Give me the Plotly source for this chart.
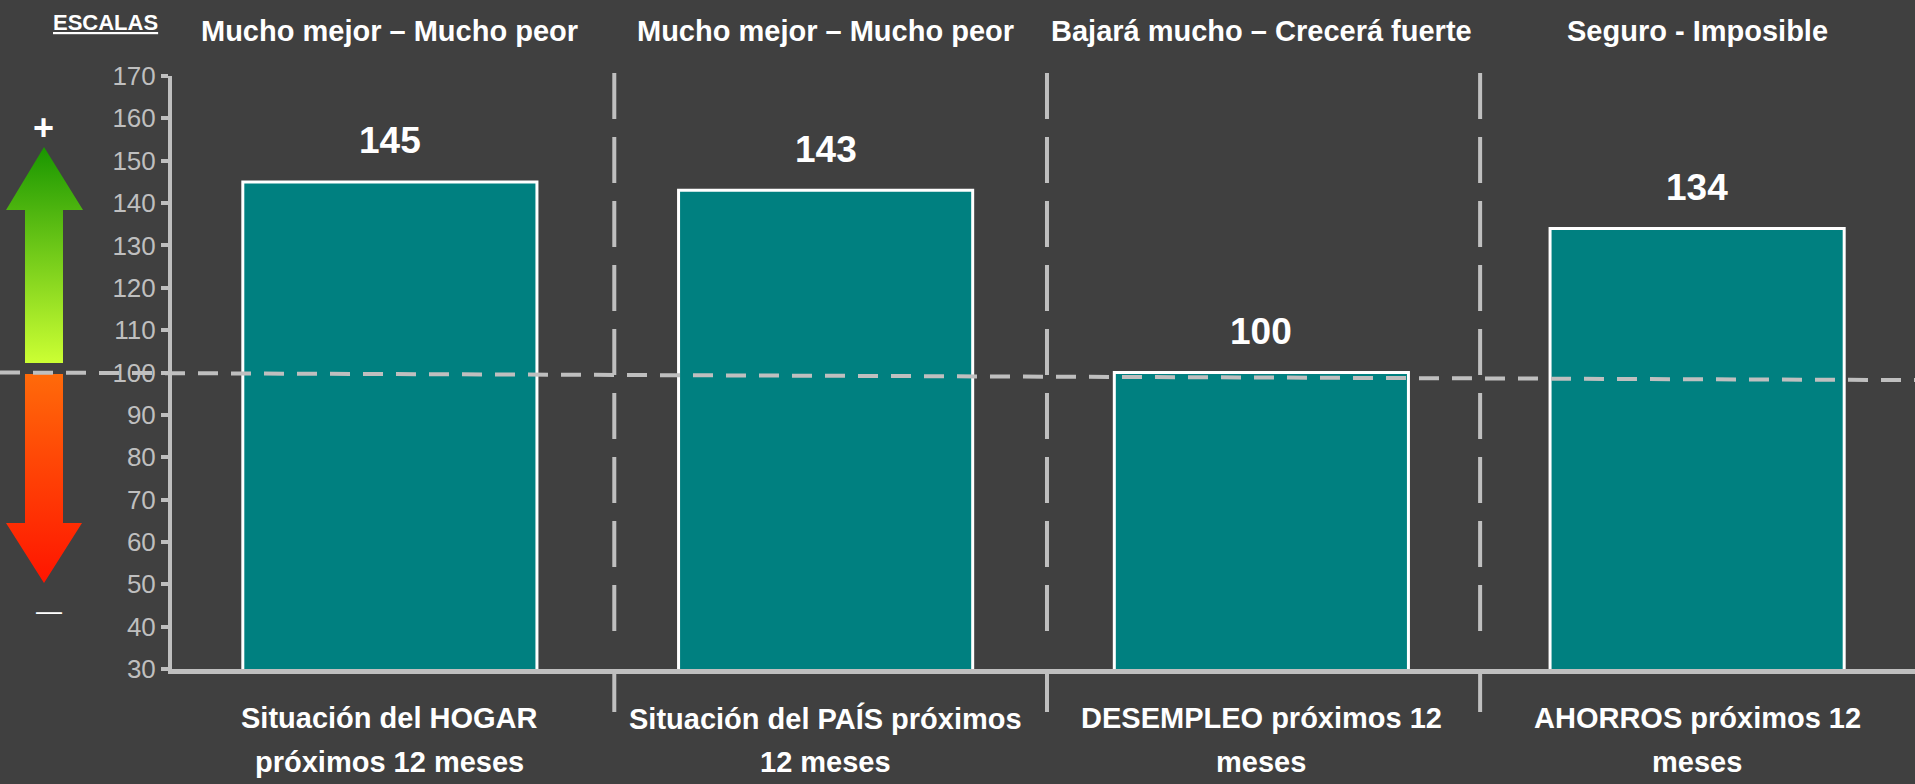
import plotly.graph_objects as go

# data
categories = ["Situación del HOGAR<br>próximos 12 meses",
              "Situación del PAÍS próximos<br>12 meses",
              "DESEMPLEO próximos 12<br>meses",
              "AHORROS próximos 12<br>meses"]
values = [145, 143, 100, 134]
scales = ["Mucho mejor – Mucho peor", "Mucho mejor – Mucho peor",
          "Bajará mucho – Crecerá fuerte", "Seguro - Imposible"]
y_ticks = [30, 40, 50, 60, 70, 80, 90, 100, 110, 120, 130, 140, 150, 160, 170]
reference_level = 100

W, H = 1915, 784
BG = "#404040"
GRAY = "#BFBFBF"
FONT = "Liberation Sans Narrow, Liberation Sans, Arial"


def py(p):
    # pixel row -> paper fraction
    return (H - p) / H


fig = go.Figure()
fig.add_trace(go.Bar(
    x=categories, y=values,
    marker=dict(color="#008080", line=dict(color="white", width=3)),
    width=0.675, showlegend=False, hoverinfo="skip"))

# scale arrows on the left (own axes, pixel units)
green = [(44, 147), (83, 210), (63, 210), (63, 363), (25, 363), (25, 210), (6, 210), (44, 147)]
red = [(25, 374), (63, 374), (63, 523), (82, 523), (44, 583), (6, 523), (25, 523), (25, 374)]
fig.add_trace(go.Scatter(
    x=[p[0] for p in green], y=[H - p[1] for p in green], mode="lines",
    line=dict(width=0), fill="toself",
    fillgradient=dict(type="vertical", colorscale=[[0, "#CCFF33"], [1, "#199600"]]),
    xaxis="x2", yaxis="y2", showlegend=False, hoverinfo="skip"))
fig.add_trace(go.Scatter(
    x=[p[0] for p in red], y=[H - p[1] for p in red], mode="lines",
    line=dict(width=0), fill="toself",
    fillgradient=dict(type="vertical", colorscale=[[0, "#FF1500"], [1, "#FF6A0A"]]),
    xaxis="x2", yaxis="y2", showlegend=False, hoverinfo="skip"))

white = lambda s: dict(size=s, color="white", family=FONT)
ann = []
for cat, v in zip(categories, values):
    ann.append(dict(x=cat, y=v, text="<b>%d</b>" % v, showarrow=False,
                    yanchor="middle", yshift=41, font=white(37)))
for cat, s in zip(categories, scales):
    ann.append(dict(x=cat, xref="x", y=py(31), yref="paper", text="<b>%s</b>" % s,
                    xanchor="center", yanchor="middle", showarrow=False, font=white(29)))
for cat in categories:
    l1, l2 = cat.split("<br>")
    ann.append(dict(x=cat, xref="x", y=py(718), yref="paper", text="<b>%s</b>" % l1,
                    xanchor="center", yanchor="middle", showarrow=False, font=white(29)))
    ann.append(dict(x=cat, xref="x", y=py(762), yref="paper", text="<b>%s</b>" % l2,
                    xanchor="center", yanchor="middle", showarrow=False, font=white(29)))
ann.append(dict(x=105 / W, xref="paper", y=py(23), yref="paper", text="<b><u>ESCALAS</u></b>",
                xanchor="center", yanchor="middle", showarrow=False, font=white(22)))
ann.append(dict(x=43 / W, xref="paper", y=py(127), yref="paper", text="<b>+</b>",
                xanchor="center", yanchor="middle", showarrow=False, font=white(36)))
ann.append(dict(x=49 / W, xref="paper", y=py(611), yref="paper", text="—",
                xanchor="center", yanchor="middle", showarrow=False, font=white(26)))

shapes = []
for b in [0.515, 1.508, 2.502]:
    shapes.append(dict(type="line", xref="x", yref="paper", x0=b, x1=b, y0=py(73), y1=py(645),
                       line=dict(color=GRAY, width=4, dash="46px,18px")))
    shapes.append(dict(type="line", xref="x", yref="paper", x0=b, x1=b, y0=py(712), y1=py(669),
                       line=dict(color=GRAY, width=4)))
shapes.append(dict(type="line", xref="paper", yref="y", x0=0, x1=1,
                   y0=reference_level, y1=reference_level - 1.8,
                   line=dict(color=GRAY, width=4, dash="20px,13px"), layer="above"))

fig.update_layout(
    width=W, height=H,
    paper_bgcolor=BG, plot_bgcolor=BG,
    margin=dict(l=0, r=0, t=0, b=0, autoexpand=False),
    xaxis=dict(domain=[172 / W, 1], showticklabels=False, showline=True, linecolor=GRAY,
               linewidth=5, ticks="", showgrid=False, zeroline=False, fixedrange=True),
    yaxis=dict(domain=[py(669), py(76)], range=[30, 170], tickvals=y_ticks, showline=True,
               linecolor=GRAY, linewidth=4, ticks="outside", ticklen=7, tickwidth=4,
               tickcolor=GRAY, showgrid=False, zeroline=False,
               tickfont=dict(size=26, color=GRAY, family=FONT)),
    xaxis2=dict(domain=[0, 90 / W], range=[0, 90], visible=False, anchor="y2"),
    yaxis2=dict(domain=[0, 1], range=[0, H], visible=False, anchor="x2"),
    annotations=ann, shapes=shapes,
)

fig.write_html("out.html", config={"displayModeBar": False}, post_script=(
    "document.body.style.margin='0';"
    "document.body.style.overflow='hidden';"
    "document.body.style.background='#404040';"))
